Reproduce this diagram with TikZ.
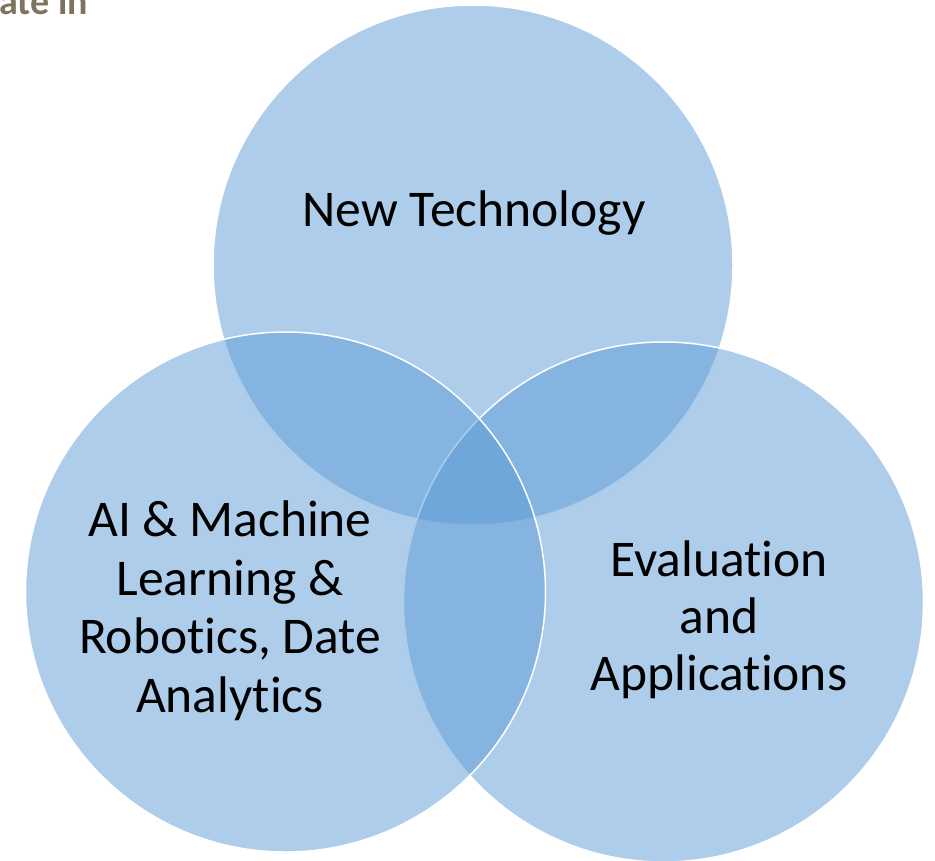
\documentclass[tikz,border=0pt]{standalone}
\usepackage{fontspec}
\setmainfont[Ligatures=NoCommon]{Carlito}
\definecolor{vennblue}{RGB}{91,155,213}
\definecolor{titlegray}{RGB}{125,115,95}
\begin{document}
\begin{tikzpicture}[x=1pt,y=-1pt,
  venn/.style={circle, minimum size=520pt, inner sep=0pt, fill=vennblue,
    fill opacity=0.5, draw=white, line width=1.5pt},
  vennlabel/.style={align=center, text=black, inner sep=0pt, anchor=base,
    font=\fontsize{51.5}{58.5}\selectfont}]
\useasboundingbox (0,0) rectangle (935,860);
\clip (0,0) rectangle (935,860);

% fragment of the slide title above the diagram
\node[anchor=base west, inner sep=0pt, text=titlegray,
      font=\fontsize{38}{40}\selectfont\bfseries] (title) at (-1,14.5) {ate in};

% the three overlapping sets
\node[venn] (tech) at (473,265) {};
\node[venn] (eval) at (663.5,602) {};
\node[venn] (ai)   at (285.5,592) {};

% set labels (base anchor sits on the last line)
\node[vennlabel] (techlabel) at (474,226) {New Technology};
\node[vennlabel] (ailabel) at (230,712)
  {AI \& Machine\\Learning \&\\Robotics, Date\\Analytics};
\node[vennlabel, font=\fontsize{51.5}{57}\selectfont] (evallabel) at (719,690)
  {Evaluation\\and\\Applications};
\end{tikzpicture}
\end{document}
